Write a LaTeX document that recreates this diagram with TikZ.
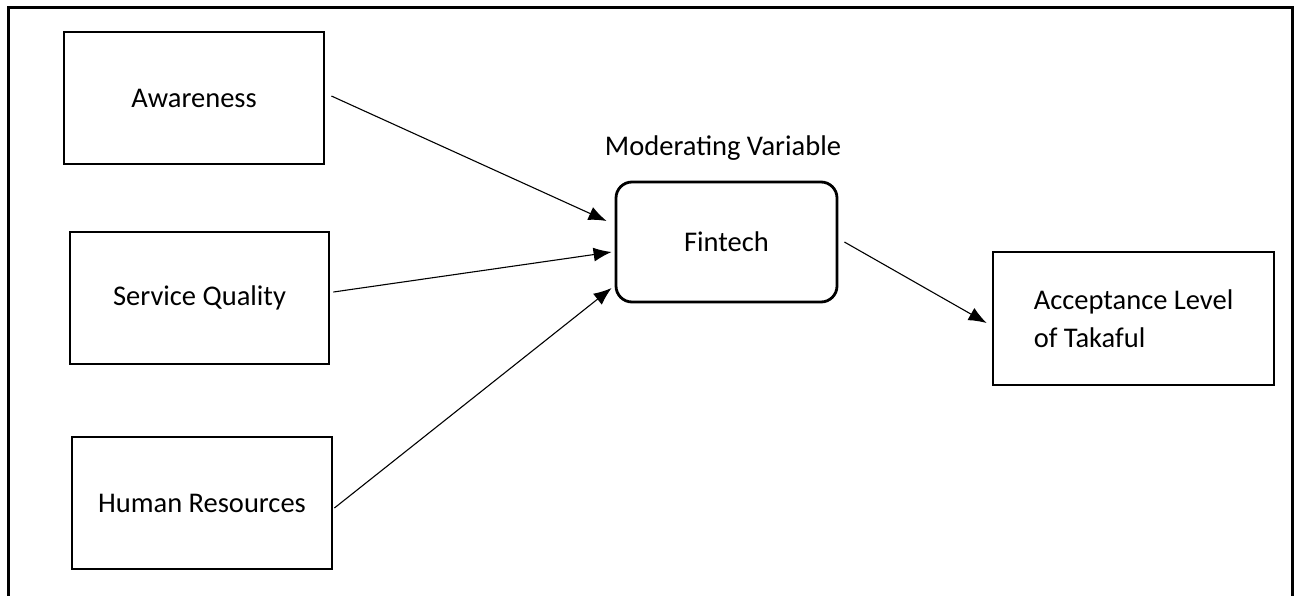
\documentclass[tikz,border=0pt]{standalone}
\usepackage{fontspec}
\setmainfont{Carlito}
\usepackage{tikz}
\usetikzlibrary{arrows.meta}

\begin{document}
\begin{tikzpicture}[x=1pt,y=-1pt,
    font=\fontsize{28.5}{38.5}\selectfont,
    var/.style={draw,line width=2.8pt,inner sep=0pt},
    link/.style={line width=1.1pt,-{Latex[length=18pt,width=14pt]}}]
  \useasboundingbox (0,0) rectangle (1296,595);
  \draw[line width=3pt] (8,600) -- (8,7) -- (1292,7) -- (1292,600);

  \node (aw) [var,minimum width=260pt,minimum height=132pt] at (194,98) {Awareness};
  \node (sq) [var,minimum width=259pt,minimum height=132pt] at (199.5,298) {Service Quality};
  \node (hr) [var,minimum width=260pt,minimum height=132pt] at (202,503) {Human Resources};
  \node (fin) [var,rounded corners=16pt,minimum width=221pt,minimum height=120pt] at (726.5,242) {Fintech};
  \node (mv) at (723,148) {Moderating Variable};
  \node (acc) [var,minimum width=281pt,minimum height=133pt,align=left] at (1133.5,318.5)
    {Acceptance Level\\of Takaful};

  \path (aw.east) +(6,-2) coordinate (awo);
  \path (fin.west) +(-8,-21) coordinate (awi);
  \draw[link] (awo) -- (awi);
  \path (sq.east) +(3,-6) coordinate (sqo);
  \path (fin.west) +(-3,10) coordinate (sqi);
  \draw[link] (sqo) -- (sqi);
  \path (hr.east) +(1,5) coordinate (hro);
  \path (fin.west) +(-3,46) coordinate (hri);
  \draw[link] (hro) -- (hri);

  \path (fin.east) +(6,0) coordinate (fino);
  \path (acc.west) +(-5,4.5) coordinate (acci);
  \draw[link] (fino) -- (acci);
\end{tikzpicture}
\end{document}
